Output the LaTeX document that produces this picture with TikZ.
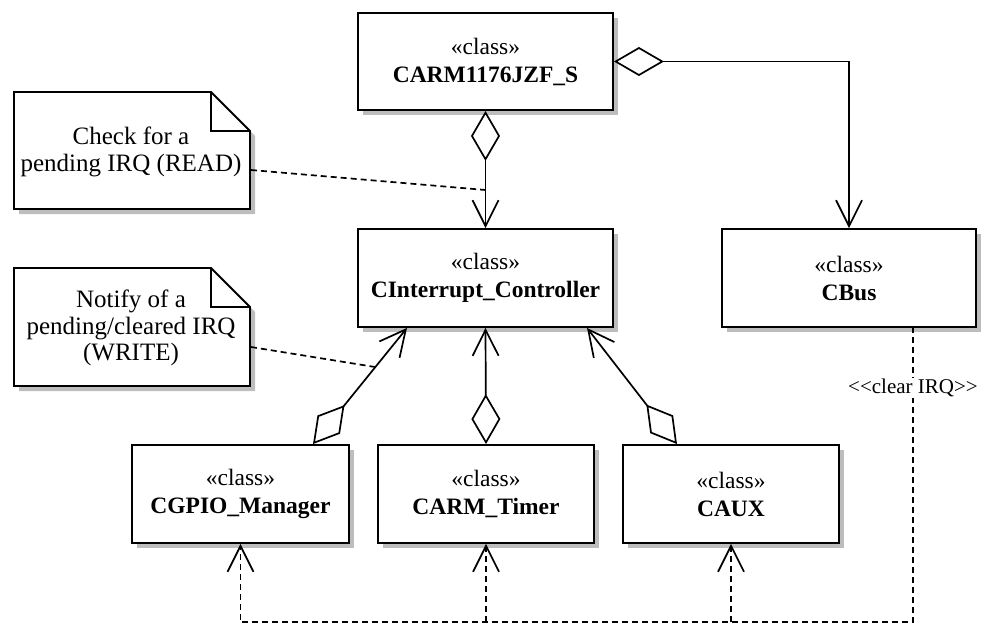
\documentclass[tikz,border=0pt]{standalone}
\usepackage{fontspec}
\setmainfont{Liberation Serif}
\usetikzlibrary{arrows.meta,shadows}
\definecolor{shadowcol}{gray}{0.74}
\begin{document}
\begin{tikzpicture}[x=1pt,y=-1pt,
  cls/.style={draw, line width=1.9pt, fill=white, align=center, inner sep=0pt,
    font=\fontsize{23.5}{28}\selectfont,
    drop shadow={shadow xshift=5pt, shadow yshift=-5pt, fill=shadowcol, opacity=1}},
  notebox/.style={draw, line width=1.9pt, fill=white, line join=miter},
  notetext/.style={align=center, font=\fontsize{25}{26.5}\selectfont, inner sep=0pt},
  agg/.style={line width=1.7pt,
    {Diamond[open,length=50pt,width=29pt]}-{Straight Barb[length=26pt,width=26pt]}},
  dep/.style={line width=1.7pt, dash pattern=on 6pt off 4pt,
    -{Straight Barb[length=26pt,width=26pt]}},
  noteline/.style={line width=1.7pt, dash pattern=on 6pt off 4pt},
  lbl/.style={fill=white, inner sep=1pt, font=\fontsize{21}{24}\selectfont}
]
\useasboundingbox (0,0) rectangle (986,626);

% classes
\node[cls, minimum width=255pt, minimum height=97pt] (arm) at (485.5,61.5) {«class»\\\textbf{CARM1176JZF\_S}};
\node[cls, minimum width=255pt, minimum height=98pt] (int) at (485.5,278) {«class»\\\textbf{CInterrupt\_Controller}};
\node[cls, minimum width=254pt, minimum height=98pt] (bus) at (849,278) {«class»\\\textbf{CBus}};
\node[cls, minimum width=217pt, minimum height=98pt] (gpio) at (240.5,494) {«class»\\\textbf{CGPIO\_Manager}};
\node[cls, minimum width=216pt, minimum height=98pt] (timer) at (486,494) {«class»\\\textbf{CARM\_Timer}};
\node[cls, minimum width=216pt, minimum height=98pt] (caux) at (731,494) {«class»\\\textbf{CAUX}};

% notes
\fill[shadowcol, shift={(5,5)}] (14,92) -- (211,92) -- (250,131) -- (250,209) -- (14,209) -- cycle;
\draw[notebox] (14,92) -- (211,92) -- (250,131) -- (250,209) -- (14,209) -- cycle;
\draw[line width=1.9pt] (211,92) -- (211,131) -- (250,131);
\node[notetext] (n1) at (131,152) {Check for a\\pending IRQ (READ)};

\fill[shadowcol, shift={(5,5)}] (14,268) -- (211,268) -- (250,307) -- (250,386) -- (14,386) -- cycle;
\draw[notebox] (14,268) -- (211,268) -- (250,307) -- (250,386) -- (14,386) -- cycle;
\draw[line width=1.9pt] (211,268) -- (211,307) -- (250,307);
\node[notetext] (n2) at (131,328) {Notify of a\\pending/cleared IRQ\\(WRITE)};

% aggregations
\draw[agg] (arm.south) -- (int.north);
\draw[agg] (arm.east) -| (bus.north);
\draw[agg] ([xshift=72.5pt]gpio.north) -- ([xshift=-78.5pt]int.south);
\draw[agg] (timer.north) -- (int.south);
\draw[agg] ([xshift=-54pt]caux.north) -- ([xshift=101.5pt]int.south);

% note links
\coordinate (n1r) at (251,170);
\coordinate (n1e) at (485.5,190);
\draw[noteline] (n1r) -- (n1e);
\coordinate (n2r) at (251,347);
\coordinate (n2e) at (375,367);
\draw[noteline] (n2r) -- (n2e);

% dependencies
\coordinate (bl) at (240.5,622);
\coordinate (busout) at (913,327);
\draw[dep] (busout) |- (bl) -- (gpio.south);
\draw[dep] (caux.south |- bl) -- (caux.south);
\draw[dep] (timer.south |- bl) -- (timer.south);
\node[lbl] (clr) at (913,388) {<{}<clear IRQ>{}>};
\end{tikzpicture}
\end{document}
